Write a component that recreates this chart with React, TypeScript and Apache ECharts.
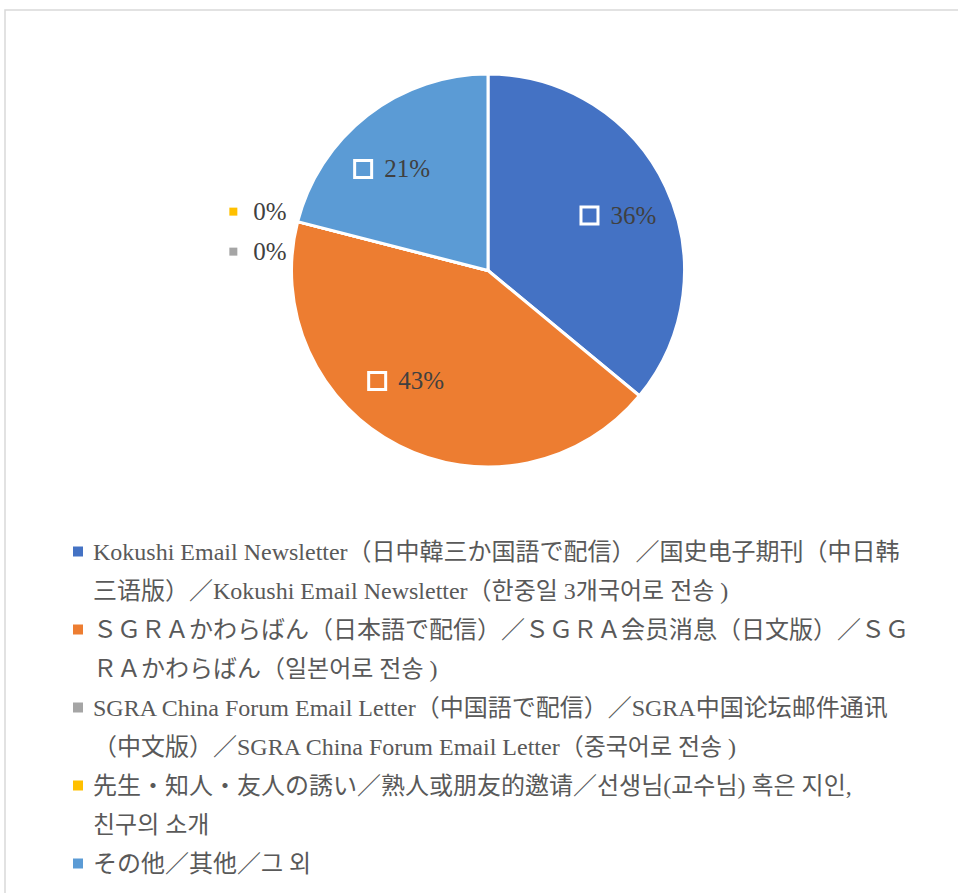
import React, { useEffect, useRef } from "react";
import * as echarts from "echarts";

const categories: string[] = [
  "Kokushi Email Newsletter（日中韓三か国語で配信）／国史电子期刊（中日韩\n三语版）／Kokushi Email Newsletter（한중일 3개국어로 전송 )",
  "ＳＧＲＡかわらばん（日本語で配信）／ＳＧＲＡ会员消息（日文版）／ＳＧ\nＲＡかわらばん（일본어로 전송 )",
  "SGRA China Forum Email Letter（中国語で配信）／SGRA中国论坛邮件通讯\n（中文版）／SGRA China Forum Email Letter（중국어로 전송 )",
  "先生・知人・友人の誘い／熟人或朋友的邀请／선생님(교수님) 혹은 지인,\n친구의 소개",
  "その他／其他／그 외",
];
const values: number[] = [36, 43, 0, 0, 21];
const colors: string[] = ["#4472C4", "#ED7D31", "#A5A5A5", "#FFC000", "#5B9BD5"];

const SERIF = "'Liberation Serif', 'Noto Sans CJK JP', serif";

export default function App() {
  const ref = useRef<HTMLDivElement>(null);
  useEffect(() => {
    if (!ref.current) return;
    const chart = echarts.init(ref.current, null, { renderer: "svg" });

    const LH = 39;
    const legendRich: any = {
      g: { width: 10, height: LH, lineHeight: LH, backgroundColor: "rgba(255,255,255,0)" },
      ind: { width: 20, height: LH, lineHeight: LH, backgroundColor: "rgba(255,255,255,0)" },
      t: { fontFamily: SERIF, fontSize: 24, color: "#595959", lineHeight: LH },
    };
    colors.forEach((c, i) => {
      legendRich["m" + i] = { width: 10, height: 10, backgroundColor: c };
    });

    const mainData = categories.map((name, i) => ({
      name,
      value: values[i],
      itemStyle: { color: colors[i] },
      label: {
        show: values[i] === 0,
        rich: {
          m: { width: 8, height: 8, backgroundColor: colors[i] },
          t: { fontFamily: SERIF, fontSize: 25, color: "#404040", padding: [0, 0, 0, 16] },
        },
      },
    }));

    const labelData = categories.map((name, i) => ({
      name,
      value: values[i],
      label: {
        show: values[i] !== 0,
        rich: {
          m: {
            width: 14,
            height: 14,
            backgroundColor: colors[i],
            borderColor: "#ffffff",
            borderWidth: 3,
          },
          t: { fontFamily: SERIF, fontSize: 25, color: "#404040", padding: [0, 0, 0, 14] },
        },
      },
    }));

    // small label nudges reproducing the spreadsheet's "best fit" placement
    const insideNudge: number[][] = [[6, 4], [-18, -13], [0, 0], [0, 0], [-10, 8]];

    const R = 196.5;

    chart.setOption({
      animation: false,
      backgroundColor: "#ffffff",
      graphic: [
        {
          type: "rect",
          shape: { x: 5, y: 10, width: 1200, height: 1200 },
          style: { fill: "none", stroke: "#d9d9d9", lineWidth: 1.5 },
          silent: true,
        },
      ],
      legend: {
        orient: "vertical",
        left: 67,
        top: 532,
        padding: 0,
        itemGap: 0,
        itemWidth: 0,
        itemHeight: 0,
        selectedMode: false,
        data: categories,
        formatter: (name: string) => {
          const i = categories.indexOf(name);
          const lines = name.split("\n");
          let s = `{m${i}|}{g|}{t|${lines[0]}}`;
          for (let k = 1; k < lines.length; k++) s += `\n{ind|}{t|${lines[k]}}`;
          return s;
        },
        textStyle: { rich: legendRich },
      },
      series: [
        {
          type: "pie",
          center: [488, 270.5],
          radius: [0, R],
          startAngle: 90,
          clockwise: true,
          silent: true,
          avoidLabelOverlap: false,
          itemStyle: { borderColor: "#ffffff", borderWidth: 3 },
          label: {
            position: "outside",
            formatter: (p: any) => `{m|}{t|${Math.round(p.percent)}%}`,
          },
          labelLine: { show: false, length: 0, length2: 0 },
          labelLayout: (p: any) => ({ dx: -6, dy: p.dataIndex === 3 ? -10 : 30 }),
          emphasis: { disabled: true },
          data: mainData,
        },
        {
          type: "pie",
          center: [488, 270.5],
          radius: [0, R * 1.38],
          startAngle: 90,
          clockwise: true,
          silent: true,
          itemStyle: { color: "rgba(0,0,0,0)" },
          label: {
            position: "inside",
            formatter: (p: any) => `{m|}{t|${Math.round(p.percent)}%}`,
          },
          labelLine: { show: false },
          labelLayout: (p: any) => ({
            dx: insideNudge[p.dataIndex][0],
            dy: insideNudge[p.dataIndex][1],
          }),
          emphasis: { disabled: true },
          data: labelData,
        },
      ],
    });
    return () => chart.dispose();
  }, []);
  return (
    <div
      ref={ref}
      style={{ position: "fixed", left: 0, top: 0, width: 958, height: 893 }}
    />
  );
}
